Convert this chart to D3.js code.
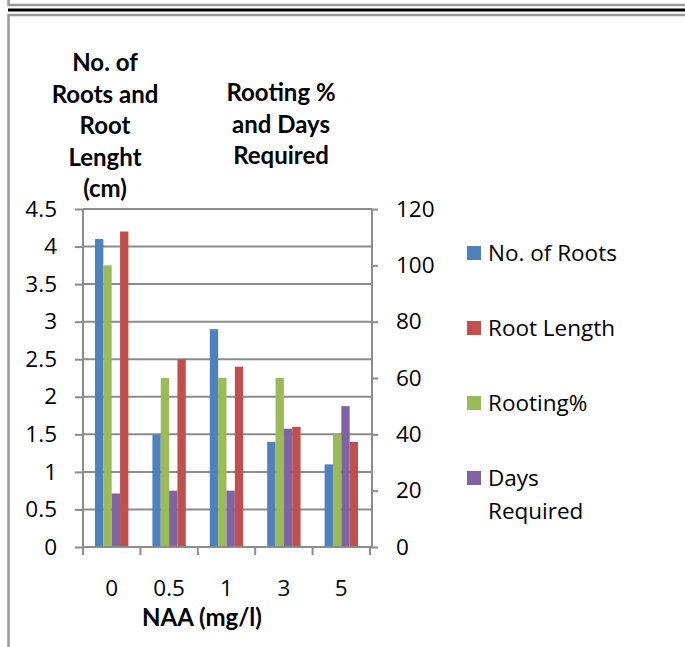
<!DOCTYPE html>
<html>
  <head>
    <style>
     body{
         margin: 0;
         background-color: white;
     }
     text{
         font-family: "Open Sans", sans-serif;
         fill: black;
     }
     .title{
         font-family: Lato, "Open Sans", sans-serif;
         font-weight: bold;
         font-size: 24px;
     }
    </style>
    <script src="https://d3js.org/d3.v7.min.js"></script>
    <title>NAA rooting</title>
  </head>
  <body>
    <script>
    // values
    const categories = ["0", "0.5", "1", "3", "5"];
    const noOfRoots = [4.1, 1.5, 2.9, 1.4, 1.1];
    const rootLength = [4.2, 2.5, 2.4, 1.6, 1.4];
    const rootingPct = [100, 60, 60, 60, 40];
    const daysRequired = [19, 20, 20, 42, 50];
    const leftTicks = [0, 0.5, 1, 1.5, 2, 2.5, 3, 3.5, 4, 4.5];
    const rightTicks = [0, 20, 40, 60, 80, 100, 120];

    const w = 685;
    const h = 647;
    const plotLeft = 83, plotRight = 372, plotTop = 209, plotBottom = 547;
    const grey = "#8c8c8c";
    const fontSize = "22.5px";

    // series: name, values, colour, which axis
    const series = [
      {key: "roots", name: "No. of Roots", values: noOfRoots, color: "#4F81BD", axis: "left"},
      {key: "length", name: "Root Length", values: rootLength, color: "#C0504D", axis: "left"},
      {key: "rooting", name: "Rooting%", values: rootingPct, color: "#9BBB59", axis: "right"},
      {key: "days", name: "Days Required", values: daysRequired, color: "#8064A2", axis: "right"}
    ];
    // order the bars sit in within a group
    const barOrder = ["roots", "rooting", "days", "length"];

    const svg = d3.select("body").append("svg")
        .attr("width", w)
        .attr("height", h);

    // page frame
    const frame = svg.append("g").attr("stroke", "#9a9a9a").attr("stroke-width", 2.5).attr("fill", "none");
    frame.append("path").attr("d", "M8.5,0 V5 H685");
    frame.append("line").attr("x1", 8).attr("x2", 685).attr("y1", 10).attr("y2", 10)
        .attr("stroke", "black").attr("stroke-width", 3);
    frame.append("path").attr("d", "M8.5,647 V15 H685");

    const x = d3.scaleBand().domain(categories).range([plotLeft, 370]);
    const xs = d3.scaleBand().domain(barOrder).range([0, x.bandwidth()]).paddingOuter(1.44);
    const yL = d3.scaleLinear().domain([0, 4.5]).range([plotBottom, plotTop]);
    const yR = d3.scaleLinear().domain([0, 120]).range([plotBottom, plotTop]);

    // gridlines
    svg.append("g")
       .selectAll("line")
       .data(leftTicks.filter(d => d > 0))
       .enter()
       .append("line")
       .attr("x1", plotLeft).attr("x2", plotRight)
       .attr("y1", d => yL(d)).attr("y2", d => yL(d))
       .attr("stroke", grey).attr("stroke-width", 2);

    // bars
    series.forEach(function (s) {
      const y = s.axis == "left" ? yL : yR;
      svg.append("g")
         .selectAll("rect")
         .data(s.values)
         .enter()
         .append("rect")
         .attr("x", (d, i) => x(categories[i]) + xs(s.key))
         .attr("y", d => y(d))
         .attr("width", xs.bandwidth())
         .attr("height", d => plotBottom - y(d))
         .attr("fill", s.color);
    });

    // axes
    const yAxisL = d3.axisLeft(yL).tickValues(leftTicks).tickSize(8).tickPadding(18).tickFormat(d3.format(""));
    const yAxisR = d3.axisRight(yR).tickValues(rightTicks).tickSize(6).tickPadding(18).tickFormat(d3.format(""));
    const xAxis = d3.axisBottom(x).tickSize(0).tickPadding(33);

    function styleAxis(g) {
      g.select(".domain").attr("stroke", grey).attr("stroke-width", 2);
      g.selectAll(".tick line").attr("stroke", grey).attr("stroke-width", 2);
      g.selectAll(".tick text").style("font-size", fontSize).attr("fill", "black");
    }

    svg.append("g").attr("transform", "translate(" + plotLeft + ",0)").call(yAxisL).call(styleAxis)
       .call(g => g.select(".domain").attr("d", "M0," + plotTop + "V" + plotBottom));
    svg.append("g").attr("transform", "translate(" + plotRight + ",0)").call(yAxisR).call(styleAxis)
       .call(g => g.select(".domain").attr("d", "M0," + plotTop + "V" + plotBottom));
    const gx = svg.append("g").attr("transform", "translate(0," + plotBottom + ")").call(xAxis).call(styleAxis);
    gx.select(".domain").attr("d", "M" + plotLeft + ",0H" + plotRight);
    // ticks between the groups
    gx.selectAll(".sep")
      .data(categories.concat(["end"]))
      .enter()
      .append("line")
      .attr("x1", (d, i) => plotLeft + i * x.step())
      .attr("x2", (d, i) => plotLeft + i * x.step())
      .attr("y1", 0).attr("y2", 8)
      .attr("stroke", grey).attr("stroke-width", 2);

    // axis titles
    const leftTitle = ["No. of", "Roots and", "Root", "Lenght", "(cm)"];
    svg.append("text").attr("class", "title").attr("text-anchor", "middle")
       .selectAll("tspan").data(leftTitle).enter().append("tspan")
       .attr("x", 105).attr("y", (d, i) => 71 + i * 31.5).text(d => d);
    const rightTitle = ["Rooting %", "and Days", "Required"];
    svg.append("text").attr("class", "title").attr("text-anchor", "middle")
       .selectAll("tspan").data(rightTitle).enter().append("tspan")
       .attr("x", 281).attr("y", (d, i) => 101 + i * 31.5).text(d => d);
    svg.append("text").attr("class", "title").attr("text-anchor", "middle")
       .attr("x", 202).attr("y", 626).text("NAA (mg/l)");

    // legend
    const legend = svg.append("g").selectAll("g")
       .data(series)
       .enter()
       .append("g")
       .attr("transform", (d, i) => "translate(467," + (253 + i * 75) + ")");
    legend.append("rect").attr("x", 0).attr("y", -7).attr("width", 14).attr("height", 14)
       .attr("fill", d => d.color);
    legend.append("text")
       .style("font-size", fontSize)
       .selectAll("tspan")
       .data(d => d.key == "days" ? ["Days", "Required"] : [d.name])
       .enter()
       .append("tspan")
       .attr("x", 21)
       .attr("y", (d, i) => 8 + i * 33)
       .text(d => d);
    </script>
  </body>
</html>
